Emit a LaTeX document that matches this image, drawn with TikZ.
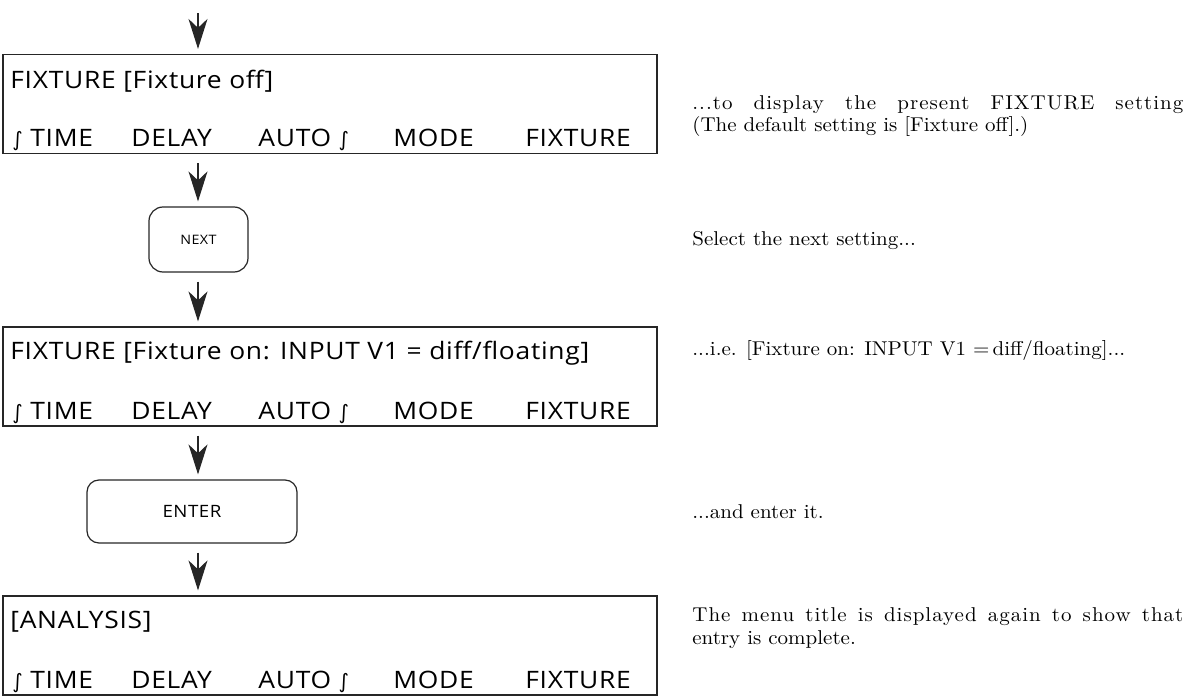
\documentclass[tikz,border=0pt]{standalone}
\usepackage{fontspec}
\setsansfont[FakeStretch=1.1, LetterSpace=3]{Open Sans}
\newfontfamily\notefont[FakeStretch=1.05]{lmroman10-regular.otf}
\newfontfamily\notefontw[FakeStretch=1.05, LetterSpace=5]{lmroman10-regular.otf}
\newfontfamily\symfont{DejaVu Sans}
\usetikzlibrary{arrows.meta}
\newcommand\myint{{\symfont\fontsize{10}{12}\selectfont ∫}}
\tikzset{
  disp/.style={draw=black!85, line width=0.6pt, minimum width=327pt, minimum height=49.5pt, inner sep=0pt},
  keybox/.style={draw=black!85, line width=0.6pt, inner sep=0pt},
  dtext/.style={anchor=base west, inner sep=0pt, font=\sffamily\fontsize{12}{14}\selectfont},
  note/.style={anchor=base west, inner sep=0pt, font=\notefont\fontsize{10}{12}\selectfont},
  notew/.style={anchor=base west, inner sep=0pt, font=\notefontw\fontsize{10}{12}\selectfont},
  flow/.style={draw=black!85, line width=0.6pt, -{Stealth[length=15pt,width=9.5pt,inset=4.5pt]}, shorten <=4.5pt, shorten >=2.5pt},
}
\newcommand\menurow[2]{%
  \node[dtext] (#1t) at (12,#2) {\myint\ TIME};
  \node[dtext] (#1d) at (131,#2) {DELAY};
  \node[dtext] (#1a) at (258,#2) {AUTO \myint};
  \node[dtext] (#1m) at (393,#2) {MODE};
  \node[dtext] (#1f) at (525,#2) {FIXTURE};
}
\begin{document}
\begin{tikzpicture}[x=0.5pt, y=-0.5pt]
\useasboundingbox (0,0) rectangle (1185,696);
% display boxes
\node[disp] (b1) at (330,104) {};
\node[disp] (b2) at (330,376.5) {};
\node[disp] (b3) at (330,645.5) {};
% keys
\node[keybox, rounded corners=7pt, minimum width=49.5pt, minimum height=32.5pt, font=\sffamily\fontsize{6.5}{8}\selectfont] (next) at (198.5,239.5) {NEXT};
\node[keybox, rounded corners=6pt, minimum width=105pt, minimum height=31.5pt, font=\sffamily\fontsize{8.5}{10}\selectfont] (enter) at (192,511.5) {ENTER};
% display texts
\node[dtext] (t1) at (10,88) {FIXTURE [Fixture off]};
\menurow{a}{146}
\node[dtext] (t2) at (10,359) {FIXTURE [Fixture on: INPUT V1 = diff/floating]};
\menurow{b}{419}
\node[dtext] (t3) at (10,628) {[ANALYSIS]};
\menurow{c}{688}
% arrows
\coordinate (start) at (198,4);
\draw[flow] (start) -- (start |- b1.north);
\draw[flow] (b1.south -| start) -- (next.north -| start);
\draw[flow] (next.south -| start) -- (b2.north -| start);
\draw[flow] (b2.south -| start) -- (enter.north -| start);
\draw[flow] (enter.south -| start) -- (b3.north -| start);
% notes
\node[notew] (n1) at (692,109) {\makebox[245.5pt][s]{...to display the present FIXTURE setting}};
\node[note] (n2) at (692,131) {(The default setting is [Fixture off].)};
\node[note] (n3) at (692,245) {Select the next setting...};
\node[note] (n4) at (692,355) {...i.e. [Fixture on: INPUT V1 =\,diff/floating]...};
\node[note] (n5) at (692,518) {...and enter it.};
\node[notew] (n6) at (692,621) {\makebox[245.5pt][s]{The menu title is displayed again to show that}};
\node[note] (n7) at (692,644) {entry is complete.};
\end{tikzpicture}
\end{document}
